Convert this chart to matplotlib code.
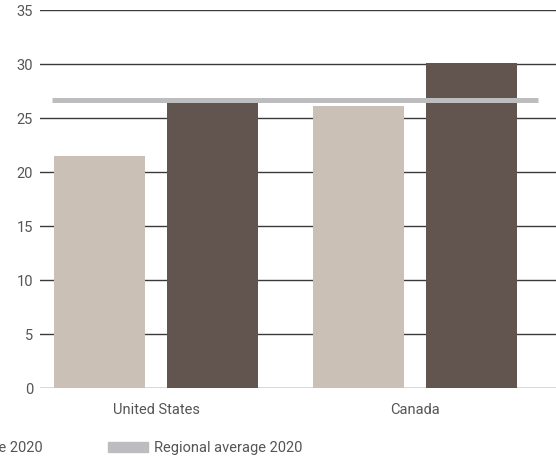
import matplotlib.pyplot as plt
from matplotlib.patches import Patch
import numpy as np

countries = ["United States", "Canada"]
light_vals = [21.5, 26.1]
dark_vals = [26.5, 30.1]
regional_avg = 26.7
legend_labels = ["National average 2020", "Regional average 2020"]

c_light = "#cac0b5"
c_dark = "#625550"
c_avg = "#bdbdbf"
c_text = "#555555"

plt.rcParams["font.family"] = ["Roboto", "DejaVu Sans"]
plt.rcParams["font.size"] = 10.5

fig = plt.figure(figsize=(5.56, 4.61), dpi=100)
# axes runs past the right edge (the reference is cropped)
ax = fig.add_axes([40 / 556, 73 / 461, 2.05 * 259 / 556, 378 / 461])

x = np.arange(len(countries))
w = 0.351
off = 0.218
ax.bar(x - off, light_vals, w, color=c_light, zorder=2)
ax.bar(x + off, dark_vals, w, color=c_dark, zorder=2)
ax.hlines(regional_avg, -0.40, 1.475, color=c_avg, linewidth=3.6, zorder=3)

ax.set_xlim(-0.448, 1.602)
ax.set_ylim(0, 35)
ax.set_yticks(range(0, 36, 5))
ax.set_xticks(x)
ax.set_xticklabels(countries)
ax.yaxis.grid(True, color="#3a3a3a", linewidth=1)
ax.set_axisbelow(True)
for s in ax.spines.values():
    s.set_visible(False)
ax.tick_params(axis="both", length=0, colors=c_text, labelsize=10.5)
ax.tick_params(axis="y", pad=5)
ax.tick_params(axis="x", pad=11)

handles = [Patch(color=c_light), Patch(color=c_avg)]
fig.legend(handles, legend_labels, loc="center right", ncol=2,
           bbox_to_anchor=(302 / 556, 13 / 461), frameon=False,
           borderpad=0, borderaxespad=0, handlelength=2.75,
           handleheight=0.7, handletextpad=0.4, columnspacing=4.45,
           labelcolor=c_text, fontsize=10.5)

fig.savefig("out.png", dpi=100)
